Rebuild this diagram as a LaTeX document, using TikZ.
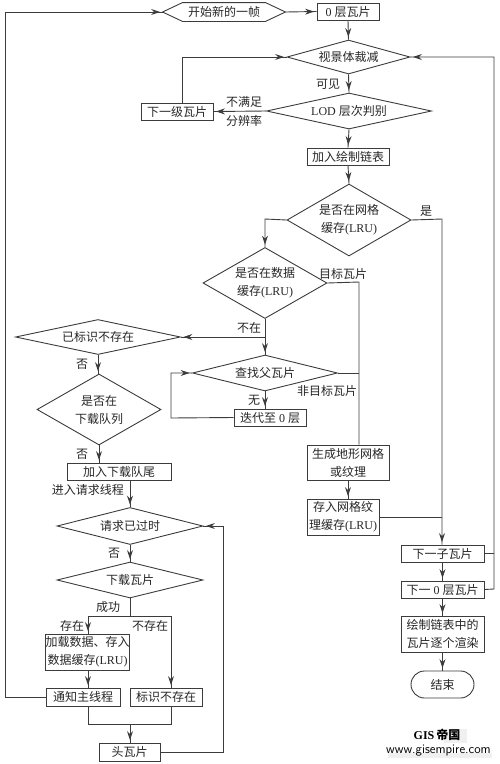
\documentclass[tikz,border=0pt]{standalone}
\usepackage{fontspec}
\setmainfont{Liberation Serif}
\newfontfamily\cjk{Noto Sans CJK SC}
\newcommand{\zh}[1]{{\cjk #1}}
\usetikzlibrary{arrows.meta,decorations.markings,shapes.geometric,shapes.misc}
\definecolor{inkline}{HTML}{3C3C3C}
\definecolor{inktext}{HTML}{262626}
\tikzset{
  base/.style={draw=inkline,line width=0.9pt,text=inktext,inner sep=0pt,align=center,font=\fontsize{12}{18}\selectfont},
  tilebox/.style 2 args={base,rectangle,minimum width=#1pt,minimum height=#2pt},
  decide/.code 2 args={\pgfmathsetmacro\aspectval{#1/#2}\tikzset{base,diamond,minimum width=#1pt,minimum height=#2pt,shape aspect=\aspectval}},
  lab/.style={text=inktext,inner sep=0pt,font=\fontsize{12}{14}\selectfont},
  link/.style={draw=inkline,line width=0.9pt},
  flow/.style={link,postaction={decorate},decoration={markings,mark=at position -2.5pt with {\arrow{Stealth[length=9pt,width=6pt,inset=3pt,inkline]}}}}
}
\begin{document}
\begin{tikzpicture}[x=1pt,y=-1pt]
\useasboundingbox (0,0) rectangle (500,764);
\fill[gray!12] (444,729) rectangle (467,743);
\fill[gray!12] (388,753) rectangle (492,758);
\node[base,draw=none,rectangle,minimum width=122pt,minimum height=18pt] (start) at (224,12) {\zh{开始新的一帧}};
\draw[link] (start.west) -- ([xshift=20pt]start.north west) -- ([xshift=-20pt]start.north east) -- (start.east) -- ([xshift=-20pt]start.south east) -- ([xshift=20pt]start.south west) -- cycle;
\node[tilebox={62}{17}] (tile0) at (348,11.5) {0 \zh{层瓦片}};
\node[decide={123}{34}] (clip) at (348.5,57) {\zh{视景体裁减}};
\node[decide={165}{36}] (lod) at (349,111) {LOD \zh{层次判别}};
\node[tilebox={72}{17}] (nextlevel) at (177,111.5) {\zh{下一级瓦片}};
\node[tilebox={82}{17}] (addlist) at (348,156.5) {\zh{加入绘制链表}};
\node[decide={124}{72}] (gridcache) at (349,220) {\zh{是否在网格}\\\zh{缓存}(LRU)};
\node[decide={124}{71}] (datacache) at (265,283) {\zh{是否在数据}\\\zh{缓存}(LRU)};
\node[decide={165}{35}] (marked) at (98,337) {\zh{已标识不存在}};
\node[decide={145}{36}] (findparent) at (265,373) {\zh{查找父瓦片}};
\node[tilebox={72}{17}] (iterate) at (270,417.5) {\zh{迭代至} 0 \zh{层}};
\node[decide={124}{71}] (inqueue) at (99,409.5) {\zh{是否在}\\\zh{下载队列}};
\node[tilebox={104}{17}] (addqueue) at (119,471.5) {\zh{加入下载队尾}};
\node[tilebox={82}{35}] (gen) at (348,462.5) {\zh{生成地形网格}\\\zh{或纹理}};
\node[tilebox={72}{36}] (store) at (343,517) {\zh{存入网格纹}\\\zh{理缓存}(LRU)};
\node[decide={146}{37}] (timeout) at (130,526) {\zh{请求已过时}};
\node[decide={146}{36}] (download) at (130,580) {\zh{下载瓦片}};
\node[tilebox={83}{36}] (load) at (87.5,652) {\zh{加载数据、存入}\\\zh{数据缓存}(LRU)};
\node[tilebox={74}{18}] (notify) at (83,697) {\zh{通知主线程}};
\node[tilebox={72}{18}] (flag) at (166,697) {\zh{标识不存在}};
\node[tilebox={61}{18}] (head) at (129.5,752) {\zh{头瓦片}};
\node[tilebox={83}{17}] (nextchild) at (442.5,553.5) {\zh{下一子瓦片}};
\node[tilebox={83}{17}] (nextzero) at (442.5,589.5) {\zh{下一} 0 \zh{层瓦片}};
\node[tilebox={83}{36}] (render) at (442.5,634) {\zh{绘制链表中的}\\\zh{瓦片逐个渲染}};
\node[base,rounded rectangle,minimum width=63pt,minimum height=27pt] (finish) at (442.5,684.5) {\zh{结束}};
\coordinate (railleft) at (5,697);
\coordinate (railright) at (494,589);
\coordinate (gridleft) at (265,219);
\coordinate (gridright) at (442,219);
\coordinate (targetbus) at (359,282);
\coordinate (missjoin) at (265,337);
\coordinate (levelup) at (182,57);
\coordinate (loopleft) at (171,418);
\coordinate (splitleft) at (88,616);
\coordinate (splitmid) at (130,616);
\coordinate (splitright) at (171,616);
\coordinate (mergeleft) at (88,724);
\coordinate (mergemid) at (130,724);
\coordinate (mergeright) at (171,724);
\coordinate (backright) at (223,752);
\draw[flow] (railleft -| notify.west) -- (railleft) -- (railleft |- start) -- (start.west);
\draw[flow] (start.east) -- (tile0.west);
\draw[flow] (tile0.south) -- (clip.north);
\draw[flow] (clip.south) -- (lod.north);
\draw[flow] (lod.west) -- (nextlevel.east);
\draw[flow] (levelup |- nextlevel.north) -- (levelup) -- (clip.west);
\draw[flow] (lod.south) -- (addlist.north);
\draw[flow] (addlist.south) -- (gridcache.north);
\draw[flow] (gridcache.west) -- (gridleft) -- (datacache.north);
\draw[flow] (gridcache.east) -- (gridright) -- (nextchild.north -| gridright);
\draw[link] (datacache.east) -- (targetbus) -- (targetbus |- gen.north);
\draw[link] (findparent.east) -- (findparent.east -| targetbus);
\draw[flow] (datacache.south) -- (findparent.north);
\draw[flow] (missjoin) -- (marked.east);
\draw[flow] (marked.south) -- (inqueue.north -| marked.south);
\draw[flow] (inqueue.south) -- (addqueue.north -| inqueue.south);
\draw[flow] (addqueue.south -| timeout.north) -- (timeout.north);
\draw[flow] (timeout.south) -- (download.north);
\draw[link] (download.south) -- (splitmid);
\draw[flow] (splitmid) -- (splitleft) -- (load.north -| splitleft);
\draw[flow] (splitmid) -- (splitright) -- (flag.north -| splitright);
\draw[flow] (load.south -| splitleft) -- (notify.north -| splitleft);
\draw[link] (notify.south -| mergeleft) -- (mergeleft) -- (mergeright) -- (flag.south -| mergeright);
\draw[flow] (mergemid) -- (head.north -| mergemid);
\draw[flow] (head.east) -- (backright) -- (backright |- timeout) -- (timeout.east);
\draw[flow] (findparent.south) -- (iterate.north -| findparent.south);
\draw[flow] (iterate.west) -- (loopleft) -- (loopleft |- findparent) -- (findparent.west);
\draw[flow] (gen.south) -- (store.north -| gen.south);
\draw[link] (store.east) -- (store.east -| gridright);
\draw[flow] (nextchild.south) -- (nextzero.north);
\draw[flow] (nextzero.south) -- (render.north);
\draw[flow] (render.south) -- (finish.north);
\draw[link] (nextchild.east) -- (nextchild.east -| railright);
\draw[flow] (nextzero.east) -- (railright) -- (railright |- clip) -- (clip.east);
\foreach \n/\x/\y/\t in {visible/328/84/可见,lowres/244/102/不满足,resol/244/121/分辨率,yesgrid/426/211/是,
  target/343/274/目标瓦片,absent/249/328/不在,nontarget/327/391/非目标瓦片,none/254/400/无,
  noa/82/364/否,nob/82/454/否,enter/88/490/进入请求线程,noc/114/553/否,
  success/108/607/成功,exist/72/626/存在,notexist/150/626/不存在}
  { \node[lab] (\n) at (\x,\y) {\zh{\t}}; }
\node[inner sep=0pt,text=black,font=\bfseries\fontsize{12}{13}\selectfont] (markgis) at (437,735) {GIS\,\zh{帝国}};
\node[inner sep=0pt,text=black,font=\sffamily\fontsize{13}{14}\selectfont] (markweb) at (438.5,750.5) {www.gisempire.com};
\end{tikzpicture}
\end{document}
